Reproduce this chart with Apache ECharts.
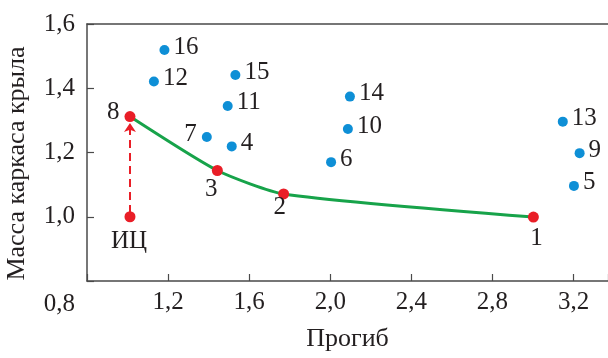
<!DOCTYPE html>
<html>
<head>
<meta charset="utf-8">
<script src="https://cdn.jsdelivr.net/npm/echarts@6/dist/echarts.min.js"></script>
<style>
  html, body { margin: 0; padding: 0; background: #fff; }
  #chart { width: 608px; height: 358px; }
</style>
</head>
<body>
<div id="chart"></div>
<script>
// blue points (variants)
const blueNames = ['4', '5', '6', '7', '9', '10', '11', '12', '13', '14', '15', '16'];
const blueX = [1.514, 3.202, 2.004, 1.391, 3.230, 2.087, 1.494, 1.130, 3.147, 2.097, 1.532, 1.182];
const blueY = [1.219, 1.096, 1.170, 1.248, 1.198, 1.273, 1.345, 1.421, 1.296, 1.374, 1.441, 1.519];

// red points (pareto front + initial)
const redNames = ['8', '3', '2', '1', 'ИЦ'];
const redX = [1.012, 1.443, 1.770, 3.002, 1.012];
const redY = [1.312, 1.144, 1.071, 0.999, 1.000];
const frontNames = ['8', '3', '2', '1'];

const xTicks = [0.8, 1.2, 1.6, 2.0, 2.4, 2.8, 3.2];
const yTicks = [0.8, 1.0, 1.2, 1.4, 1.6];

const FONT = 'Liberation Serif';
const TXT = '#231f20';
const AX = '#4a4a4a';
const BLUE = '#0e8fd6';
const RED = '#e91e27';
const GREEN = '#17a34a';

function fmt(v) {
  return v.toFixed(1).replace('.', ',');
}

// label placement per point name (style only)
const labelPos = {
  '7': { position: 'left', distance: 5, offset: [0, -3] },
  '8': { position: 'left', distance: 5, offset: [0, -4] },
  '3': { position: 'bottom', distance: 1, offset: [-6, 0] },
  '2': { position: 'bottom', distance: -5, offset: [-4, 0] },
  '1': { position: 'bottom', distance: 3, offset: [3, 0] },
  'ИЦ': { position: 'bottom', distance: 7, offset: [-1, 0] }
};

const blueData = blueNames.map((n, i) => {
  const lp = labelPos[n] || { position: 'right', distance: 4, offset: [0, -3] };
  return { name: n, value: [blueX[i], blueY[i]], label: Object.assign({ show: true }, lp) };
});
const redData = redNames.map((n, i) => ({
  name: n, value: [redX[i], redY[i]], label: Object.assign({ show: true }, labelPos[n])
}));
const frontData = frontNames.map(n => {
  const i = redNames.indexOf(n);
  return [redX[i], redY[i]];
});
const iI = redNames.indexOf('ИЦ');
const i8 = redNames.indexOf('8');
const arrowData = [{ coords: [[redX[iI], redY[iI] + 0.012], [redX[i8], redY[i8] - 0.02]] }];

const chart = echarts.init(document.getElementById('chart'), null, { renderer: 'canvas' });
chart.setOption({
  animation: false,
  grid: { left: 87, top: 24, right: 0, bottom: 77, outerBoundsMode: 'none', containLabel: false },
  xAxis: [{
    type: 'value', min: 0.8, max: 3.37, interval: 0.4,
    name: 'Прогиб', nameLocation: 'middle', nameGap: 45,
    nameTextStyle: { fontFamily: FONT, fontSize: 26, color: TXT },
    axisLine: { lineStyle: { color: AX, width: 1.5 } },
    axisTick: { inside: true, length: 7, lineStyle: { color: AX, width: 1.2 } },
    axisLabel: {
      margin: 9, fontFamily: FONT, fontSize: 25, color: TXT,
      formatter: v => (xTicks.indexOf(Math.round(v * 10) / 10) > 0 && Math.abs(v * 10 - Math.round(v * 10)) < 1e-6) ? fmt(v) : ''
    },
    splitLine: { show: false }
  }, {
    type: 'value', position: 'top', min: 0.8, max: 3.37,
    axisLine: { show: true, onZero: false, lineStyle: { color: AX, width: 1.5 } },
    axisTick: { show: false }, axisLabel: { show: false }, splitLine: { show: false }
  }],
  yAxis: {
    type: 'value', min: 0.8, max: 1.6, interval: 0.2,
    name: 'Масса каркаса крыла', nameLocation: 'middle', nameGap: 57,
    nameTextStyle: { fontFamily: FONT, fontSize: 26, color: TXT, padding: [0, 22, 0, 0] },
    axisLine: { show: true, lineStyle: { color: AX, width: 1.5 } },
    axisTick: { inside: true, length: 7, lineStyle: { color: AX, width: 1.2 } },
    axisLabel: {
      margin: 12, fontFamily: FONT, fontSize: 25, color: TXT,
      formatter: v => (v > 0.85 ? fmt(v) : '')
    },
    splitLine: { show: false }
  },
  graphic: [{
    type: 'text', right: 533, top: 292,
    style: { text: fmt(yTicks[0]), font: '25px "Liberation Serif"', fill: TXT }
  }],
  series: [{
    type: 'line', data: frontData, smooth: 0.2, symbol: 'none',
    lineStyle: { color: GREEN, width: 3 }, z: 2
  }, {
    type: 'lines', coordinateSystem: 'cartesian2d', data: arrowData,
    symbol: ['none', 'arrow'], symbolSize: [7, 9],
    lineStyle: { color: RED, width: 2, type: [8, 5], opacity: 1 }, z: 2
  }, {
    type: 'scatter', data: blueData, symbolSize: 10,
    itemStyle: { color: BLUE, opacity: 1 },
    label: { fontFamily: FONT, fontSize: 25, color: TXT, formatter: '{b}' }, z: 3
  }, {
    type: 'scatter', data: redData, symbolSize: 11,
    itemStyle: { color: RED, opacity: 1 },
    label: { fontFamily: FONT, fontSize: 25, color: TXT, formatter: '{b}' }, z: 4
  }]
});
</script>
</body>
</html>
